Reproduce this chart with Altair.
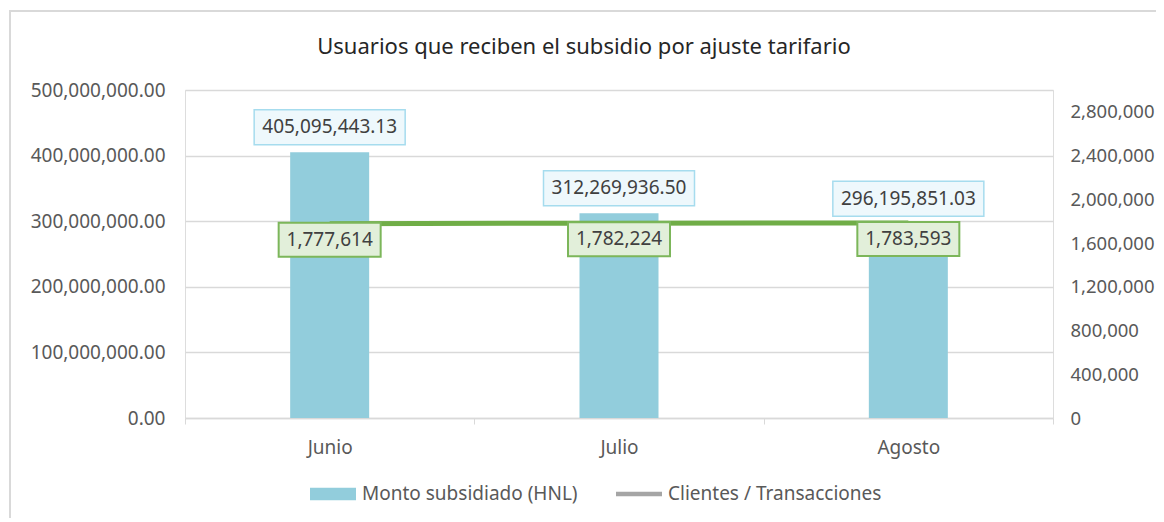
import altair as alt
import pandas as pd

meses = ["Junio", "Julio", "Agosto"]
monto = [405095443.13, 312269936.50, 296195851.03]
clientes = [1777614, 1782224, 1783593]
series = ["Monto subsidiado (HNL)", "Clientes / Transacciones"]
left_ticks = [0, 100000000, 200000000, 300000000, 400000000, 500000000]
right_ticks = [0, 400000, 800000, 1200000, 1600000, 2000000, 2400000, 2800000]
titulo = "Usuarios que reciben el subsidio por ajuste tarifario"

FONT = "Noto Sans"
FS = 19
BAR_COLOR = "#92cddc"
LINE_COLOR = "#70ad47"
LABEL_COLOR = "#595959"

df = pd.DataFrame({"mes": meses, "monto": monto, "clientes": clientes})
leg_df = pd.DataFrame({"serie": series})

x = alt.X(
    "mes:N",
    sort=meses,
    title=None,
    scale=alt.Scale(paddingInner=0, paddingOuter=0),
    axis=alt.Axis(
        labelAngle=0, tickBand="extent", domainColor="#d9d9d9", tickColor="#d9d9d9",
        tickSize=6, labelPadding=14, labelFontSize=FS, labelFont=FONT,
        labelColor=LABEL_COLOR, grid=False, domainWidth=1.5,
    ),
)

y_left = alt.Y(
    "monto:Q",
    scale=alt.Scale(domain=[0, 500000000], nice=False),
    axis=alt.Axis(
        values=left_ticks, format=",.2f", title=None, orient="left", grid=True,
        gridColor="#d9d9d9", gridWidth=1.5, domain=False, ticks=False, labelPadding=20,
        labelFontSize=FS, labelFont=FONT, labelColor=LABEL_COLOR,
    ),
)

y_right = alt.Y(
    "clientes:Q",
    scale=alt.Scale(domain=[0, 3000000], nice=False),
    axis=alt.Axis(
        values=right_ticks, format=",.0f", title=None, orient="right", grid=False,
        domain=False, ticks=False, labelPadding=17,
        labelFontSize=18.5, labelFont=FONT, labelColor=LABEL_COLOR,
    ),
)

base = alt.Chart(df)

frame = alt.Chart(leg_df).mark_rect(
    fill=None, stroke="#d9d9d9", strokeWidth=2
).encode(
    x=alt.value(-175), x2=alt.value(1200), y=alt.value(-79), y2=alt.value(700)
).transform_filter(alt.datum.serie == series[0])

bars = base.mark_bar(color=BAR_COLOR, width=79).encode(x=x, y=y_left)

bar_box = base.mark_point(
    shape="M-1,-0.232L1,-0.232L1,0.232L-1,0.232Z", size=151 * 151, filled=False,
    fill="#eef8fc", stroke="#a6dcee", strokeWidth=1.5, opacity=1, yOffset=-25,
).encode(x=x, y=y_left)

bar_txt = base.mark_text(
    font=FONT, fontSize=FS, color="#404040", baseline="middle", yOffset=-25,
).encode(x=x, y=y_left, text=alt.Text("monto:Q", format=",.2f"))

rect_path = "M-1,-0.27L1,-0.27L1,0.27L-1,0.27Z"
line_path = "M-1,-0.1L1,-0.1L1,0.1L-1,0.1Z"

legend_kw = dict(
    title=None, orient="none", direction="horizontal", legendX=125, legendY=381,
    labelFontSize=FS, labelFont=FONT, labelColor=LABEL_COLOR, symbolSize=2116,
    symbolOpacity=1, symbolStrokeWidth=0, columnPadding=38, labelOffset=6,
    labelLimit=400,
)

legend_layer = alt.Chart(leg_df).mark_point(filled=True, opacity=0, size=2116).encode(
    color=alt.Color(
        "serie:N", sort=series,
        scale=alt.Scale(domain=series, range=[BAR_COLOR, "#a5a5a5"]),
        legend=alt.Legend(**legend_kw),
    ),
    shape=alt.Shape(
        "serie:N", sort=series,
        scale=alt.Scale(domain=series, range=[rect_path, line_path]),
        legend=alt.Legend(**legend_kw),
    ),
)

left = alt.layer(frame, bars, bar_box, bar_txt, legend_layer)

line = base.mark_line(color=LINE_COLOR, strokeWidth=5).encode(x=x, y=y_right)

line_box = base.mark_point(
    shape="M-1,-0.333L1,-0.333L1,0.333L-1,0.333Z", size=102 * 102, filled=False,
    fill="#e2efda", stroke="#7cb65a", strokeWidth=2, opacity=1, yOffset=16,
).encode(x=x, y=y_right)

line_txt = base.mark_text(
    font=FONT, fontSize=FS, color="#404040", baseline="middle", yOffset=16,
).encode(x=x, y=y_right, text=alt.Text("clientes:Q", format=","))

right = alt.layer(line, line_box, line_txt)

chart = alt.layer(left, right).resolve_scale(
    y="independent", color="independent", shape="independent"
).properties(
    width=868,
    height=328,
    autosize=alt.AutoSizeParams(type="none"),
    padding={"left": 177, "top": 82, "right": 103, "bottom": 100},
    title=alt.TitleParams(
        titulo, font=FONT, fontSize=22, fontWeight="normal", color="#262626",
        anchor="middle", offset=-49, dx=-35,
    ),
).configure_view(stroke=None).configure(background="white")

chart.save("out.html", embed_options={"renderer": "svg", "actions": False})
